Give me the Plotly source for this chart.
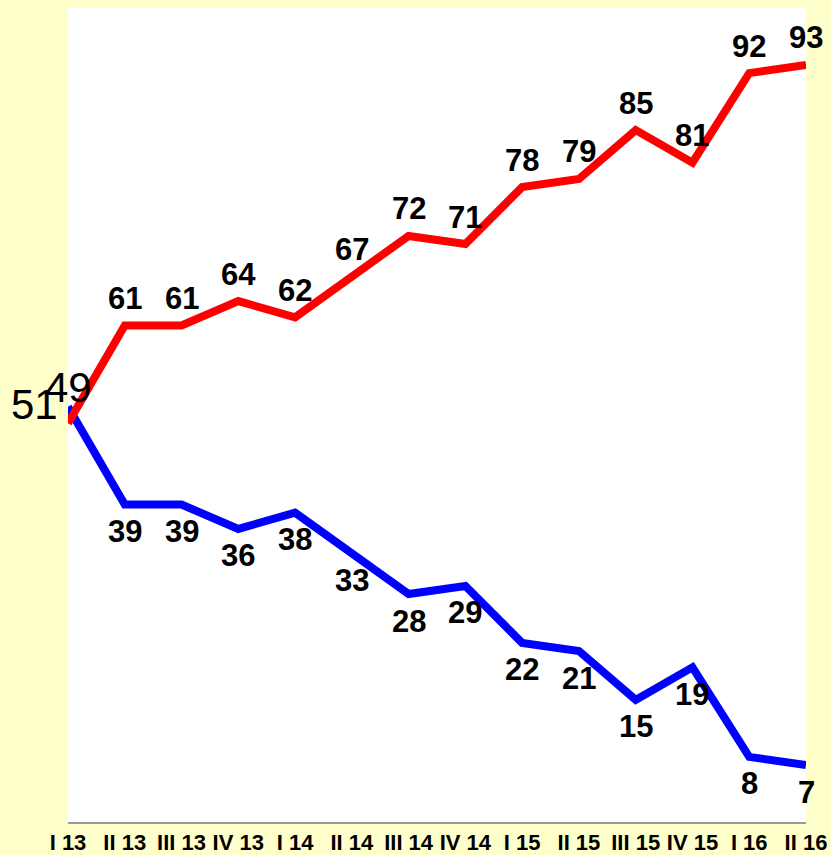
import plotly.graph_objects as go

categories = ["I 13", "II 13", "III 13", "IV 13", "I 14", "II 14", "III 14",
              "IV 14", "I 15", "II 15", "III 15", "IV 15", "I 16", "II 16"]
red_values = [49, 61, 61, 64, 62, 67, 72, 71, 78, 79, 85, 81, 92, 93]
blue_values = [51, 39, 39, 36, 38, 33, 28, 29, 22, 21, 15, 19, 8, 7]

xs = list(range(len(categories)))

fig = go.Figure()
fig.add_trace(go.Scatter(x=xs, y=blue_values, mode="lines",
                         line=dict(color="#0000FF", width=8), hoverinfo="skip"))
fig.add_trace(go.Scatter(x=xs, y=red_values, mode="lines",
                         line=dict(color="#FF0000", width=8), hoverinfo="skip"))

bold_font = dict(family="Liberation Sans", size=31, color="black")
big_font = dict(family="Liberation Sans", size=42, color="black")

annotations = []
for i, (r, b) in enumerate(zip(red_values, blue_values)):
    if i == 0:
        annotations.append(dict(x=i, y=r, text=str(r), showarrow=False,
                                font=big_font, yshift=36, xref="x", yref="y"))
        annotations.append(dict(x=i, y=b, text=str(b), showarrow=False,
                                font=big_font, xshift=-34, yshift=2, xref="x", yref="y"))
    else:
        annotations.append(dict(x=i, y=r, text="<b>%d</b>" % r, showarrow=False,
                                font=bold_font, yshift=27, xref="x", yref="y"))
        annotations.append(dict(x=i, y=b, text="<b>%d</b>" % b, showarrow=False,
                                font=bold_font, yshift=-27, xref="x", yref="y"))

fig.update_layout(
    width=831, height=855,
    margin=dict(l=68, r=25, t=8, b=33),
    paper_bgcolor="#FFFFCC",
    plot_bgcolor="#FFFFFF",
    showlegend=False,
    annotations=annotations,
    xaxis=dict(range=[0, 13], tickmode="array", tickvals=xs,
               ticktext=["<b>%s</b>" % c for c in categories],
               tickfont=dict(family="Liberation Sans", size=22, color="black"),
               tickangle=0, automargin=False,
               showgrid=False, zeroline=False, showline=True, linecolor="#999999",
               linewidth=2, ticks="", ticklen=0, fixedrange=True),
    yaxis=dict(range=[0, 100], showgrid=False, zeroline=False, showline=False,
               showticklabels=False, ticks="", automargin=False, fixedrange=True),
)

fig.write_html("out.html",
               config={"displayModeBar": False},
               post_script="document.body.style.margin='0';"
                           "document.body.style.background='#FFFFCC';")
